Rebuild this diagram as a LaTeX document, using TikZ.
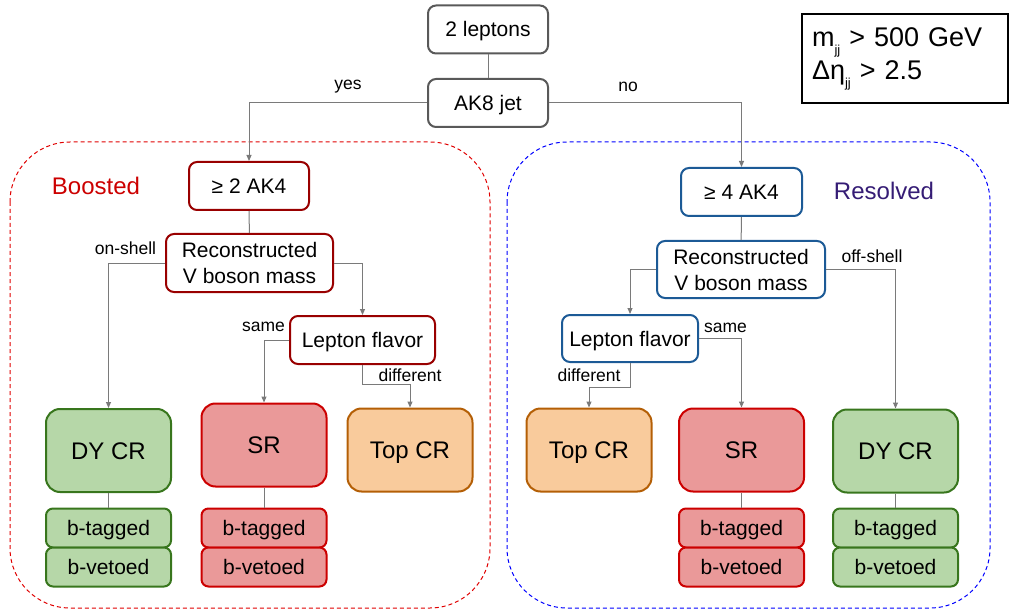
\documentclass[tikz,border=0pt]{standalone}
\usepackage{fontspec}
\setmainfont{Liberation Sans}
\usepackage{xcolor}
\usetikzlibrary{arrows.meta}
\definecolor{boxgray}{HTML}{595959}
\definecolor{linegray}{HTML}{7A7A7A}
\definecolor{bstred}{HTML}{990000}
\definecolor{resblue}{HTML}{1C5A96}
\definecolor{respurple}{HTML}{351C75}
\definecolor{dyfill}{HTML}{B6D7A8}
\definecolor{dyline}{HTML}{38761D}
\definecolor{srfill}{HTML}{EA9999}
\definecolor{srline}{HTML}{CC0000}
\definecolor{topfill}{HTML}{F9CB9C}
\definecolor{topline}{HTML}{B45F06}
\newcommand{\jjsub}{\raisebox{-8pt}{\fontsize{13}{13}\selectfont jj}}

\begin{document}
\begin{tikzpicture}[x=1pt, y=-1pt,
    every node/.style={font=\fontsize{21}{26}\selectfont, inner sep=0pt},
    cutbox/.style={draw=boxgray, line width=2pt, fill=white, rounded corners=8pt, align=center},
    oneline/.style={text height=15pt, text depth=0pt},
    bcut/.style={cutbox, draw=bstred},
    rcut/.style={cutbox, draw=resblue},
    regbox/.style={line width=2pt, rounded corners=14pt, minimum width=125pt, minimum height=83pt,
      font=\fontsize{24}{28}\selectfont, text height=17pt, text depth=0pt},
    dyreg/.style={regbox, fill=dyfill, draw=dyline},
    srreg/.style={regbox, fill=srfill, draw=srline},
    topreg/.style={regbox, fill=topfill, draw=topline},
    tagbox/.style={line width=2pt, rounded corners=7pt, minimum width=125pt, minimum height=39pt, oneline},
    dytag/.style={tagbox, fill=dyfill, draw=dyline},
    srtag/.style={tagbox, fill=srfill, draw=srline},
    conn/.style={draw=linegray, line width=1pt},
    arr/.style={conn, -{Triangle[length=6pt,width=5pt]}},
    lab/.style={font=\fontsize{17.5}{20}\selectfont}]
  \useasboundingbox (0,0) rectangle (1011,612);

  % the two categories
  \draw[srline!60!red, line width=1pt, dash pattern=on 4pt off 3pt, rounded corners=60pt] (10,142) rectangle (490,608);
  \draw[blue, line width=1pt, dash pattern=on 4pt off 3pt, rounded corners=60pt] (507,142) rectangle (990,608);
  \node[srline, font=\fontsize{24}{28}\selectfont] (boosted) at (96,186) {Boosted};
  \node[respurple, font=\fontsize{24}{28}\selectfont] (resolved) at (884,191) {Resolved};

  % VBS cuts
  \node[draw=black, line width=2pt, text width=186pt, inner xsep=10pt, minimum height=89pt, align=left,
        font=\fontsize{27}{33}\selectfont] (vbscuts) at (905,58.5) {m\jjsub{} > 500 GeV\\Δη\jjsub{} > 2.5};

  % common selection
  \node[cutbox, oneline, minimum width=120pt, minimum height=48pt] (lep) at (488,29.5) {2 leptons};
  \node[cutbox, oneline, minimum width=120pt, minimum height=48pt] (ak8) at (488,103) {AK8 jet};

  % boosted
  \node[bcut, oneline, minimum width=120pt, minimum height=48pt] (bak4) at (249,186) {≥ 2 AK4};
  \node[bcut, minimum width=167pt, minimum height=58pt] (bmass) at (249.5,263) {Reconstructed\\V boson mass};
  \node[bcut, oneline, minimum width=145pt, minimum height=48pt] (bflav) at (362.5,340) {Lepton flavor};
  \node[dyreg] (bdy) at (108.5,450.5) {DY CR};
  \node[srreg] (bsr) at (264,445) {SR};
  \node[topreg] (btop) at (410,450) {Top CR};
  \node[dytag] (bdytag) at (108.5,528) {b-tagged};
  \node[dytag] (bdyveto) at (108.5,567) {b-vetoed};
  \node[srtag] (bsrtag) at (264,528) {b-tagged};
  \node[srtag] (bsrveto) at (264,567) {b-vetoed};

  % resolved
  \node[rcut, oneline, minimum width=121pt, minimum height=48pt] (rak4) at (741.5,192) {≥ 4 AK4};
  \node[rcut, minimum width=168pt, minimum height=57pt] (rmass) at (741,269.5) {Reconstructed\\V boson mass};
  \node[rcut, oneline, minimum width=136pt, minimum height=47pt] (rflav) at (630,338.5) {Lepton flavor};
  \node[topreg] (rtop) at (589,450) {Top CR};
  \node[srreg] (rsr) at (741.5,450) {SR};
  \node[dyreg] (rdy) at (895.5,451) {DY CR};
  \node[srtag] (rsrtag) at (741.5,528) {b-tagged};
  \node[srtag] (rsrveto) at (741.5,567) {b-vetoed};
  \node[dytag] (rdytag) at (895.5,528) {b-tagged};
  \node[dytag] (rdyveto) at (895.5,567) {b-vetoed};

  % connectors
  \draw[conn] (lep) -- (ak8);
  \draw[arr] (ak8.west) -| (bak4.north);
  \draw[arr] (ak8.east) -| (rak4.north);
  \node[lab] (yes) at (348,87) {yes};
  \node[lab] (no) at (628,87) {no};

  \draw[conn] (bak4) -- (bmass);
  \draw[arr] (bmass.west) -| (bdy.north);
  \draw[arr] (bmass.east) -| (bflav.north);
  \draw[arr] (bflav.west) -| (bsr.north);
  \draw[arr] (bflav.south) -- ++(0,19) -| (btop.north);
  \draw[conn] (bdy) -- (bdytag);
  \draw[conn] (bsr) -- (bsrtag);
  \node[lab] (bonshell) at (125.5,248) {on-shell};
  \node[lab] (bsame) at (263.5,327) {same};
  \node[lab] (bdiff) at (410,375) {different};

  \draw[conn] (rak4) -- (rmass);
  \draw[arr] (rmass.west) -| (rflav.north);
  \draw[arr] (rmass.east) -| (rdy.north);
  \draw[arr] (rflav.east) -| (rsr.north);
  \draw[arr] (rflav.south) -- ++(0,24) -| (rtop.north);
  \draw[conn] (rsr) -- (rsrtag);
  \draw[conn] (rdy) -- (rdytag);
  \node[lab] (roffshell) at (872,256) {off-shell};
  \node[lab] (rsame) at (725.5,328) {same};
  \node[lab] (rdiff) at (589,375) {different};
\end{tikzpicture}
\end{document}
